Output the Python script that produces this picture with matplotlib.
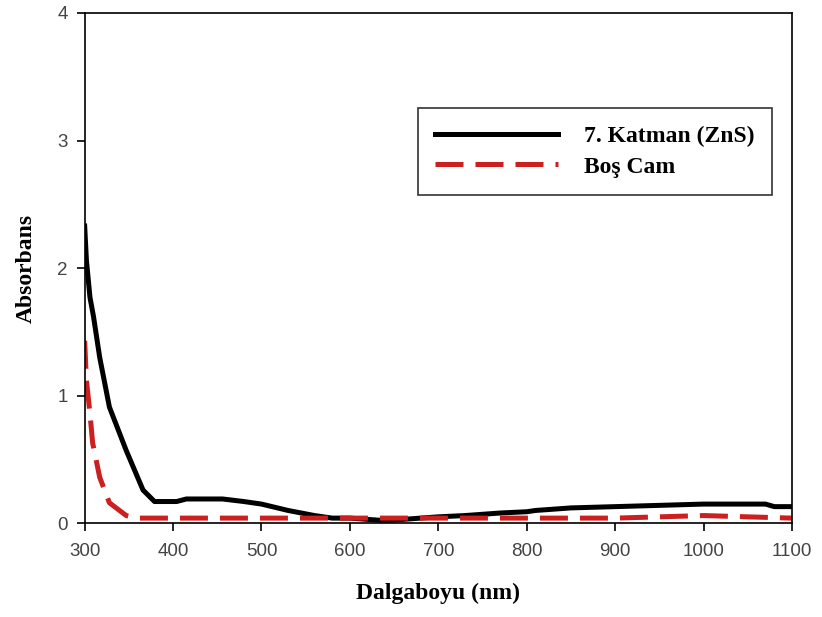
import matplotlib
matplotlib.use("Agg")
import matplotlib.pyplot as plt

# 7. Katman (ZnS)
wl_zns = [300, 302, 306, 310, 317, 328, 347, 366, 379, 390, 404, 415, 456, 480, 500,
          530, 560, 580, 600, 620, 640, 660, 700, 730, 770, 800, 810, 850, 900, 950,
          1000, 1050, 1070, 1080, 1100]
abs_zns = [2.33, 2.06, 1.77, 1.62, 1.30, 0.91, 0.57, 0.26, 0.17, 0.17, 0.17, 0.19, 0.19, 0.17, 0.15,
           0.10, 0.06, 0.04, 0.04, 0.03, 0.02, 0.03, 0.05, 0.06, 0.08, 0.09, 0.10, 0.12, 0.13, 0.14,
           0.15, 0.15, 0.15, 0.13, 0.13]

# Bos Cam
wl_cam = [300, 302, 306, 309, 317, 328, 347, 358, 380, 500, 700, 900, 950, 1000, 1050, 1100]
abs_cam = [1.43, 1.12, 0.86, 0.63, 0.36, 0.16, 0.06, 0.04, 0.04, 0.04, 0.04, 0.04, 0.05, 0.06, 0.05, 0.04]

xticks = [300, 400, 500, 600, 700, 800, 900, 1000, 1100]
yticks = [0, 1, 2, 3, 4]

fig = plt.figure(figsize=(8.22, 6.17), dpi=100)
ax = fig.add_axes([0.103, 0.152, 0.8605, 0.827])

ax.plot(wl_zns, abs_zns, color="black", lw=3.6, label="7. Katman (ZnS)")
ax.plot(wl_cam, abs_cam, color="#cc1f1f", lw=3.6, dashes=(5.6, 2.4), label="Boş Cam")

ax.set_xlim(300, 1100)
ax.set_ylim(0, 4)
ax.set_xticks(xticks)
ax.set_yticks(yticks)
ax.tick_params(direction="out", length=6, width=1.2, labelsize=13.5, labelcolor="#444444")
ax.tick_params(axis="x", pad=8)
ax.tick_params(axis="y", pad=6)
for lab in ax.get_xticklabels() + ax.get_yticklabels():
    lab.set_family(["Liberation Sans", "DejaVu Sans"])
for s in ax.spines.values():
    s.set_linewidth(1.2)

serif = ["Liberation Serif", "DejaVu Serif"]
ax.set_xlabel("Dalgaboyu (nm)", fontsize=17, fontweight="bold", family=serif, labelpad=17)
ax.set_ylabel("Absorbans", fontsize=17, fontweight="bold", family=serif, labelpad=15)

leg = ax.legend(loc="upper right", bbox_to_anchor=(0.972, 0.814), borderaxespad=0,
                fancybox=False, edgecolor="black", handlelength=5.2, handletextpad=1.1,
                borderpad=0.75, labelspacing=0.38,
                prop={"family": serif, "weight": "bold", "size": 17})
leg.get_frame().set_linewidth(1.2)

fig.savefig("out.png", dpi=100)
